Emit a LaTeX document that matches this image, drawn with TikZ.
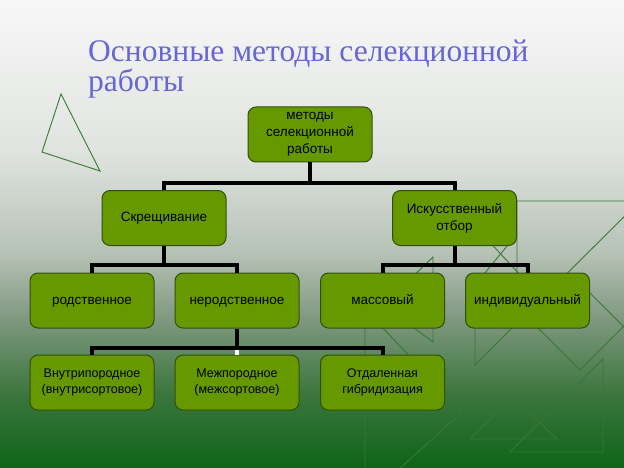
\documentclass[tikz,border=0pt]{standalone}
\usepackage{fontspec}
\setmainfont{Liberation Serif}
\setsansfont{Liberation Sans}
\newfontfamily\titlefont{Liberation Serif}
\usepackage{tikz}
\definecolor{boxgreen}{RGB}{102,153,0}
\definecolor{boxedge}{RGB}{50,80,10}
\definecolor{titleblue}{RGB}{102,102,212}
\definecolor{decor}{RGB}{55,120,55}
\definecolor{bgA}{RGB}{14,100,24}
\definecolor{bgB}{RGB}{60,118,62}
\definecolor{bgC}{RGB}{128,152,128}
\definecolor{bgD}{RGB}{182,194,182}
\definecolor{bgE}{RGB}{224,228,224}
\definecolor{bgF}{RGB}{247,247,247}
\pgfdeclareverticalshading{slidebg}{100bp}{color(0bp)=(bgA); color(25bp)=(bgA);
  color(33bp)=(bgB); color(41bp)=(bgC); color(48bp)=(bgD); color(59bp)=(bgE);
  color(75bp)=(bgF); color(100bp)=(bgF)}

\begin{document}
\begin{tikzpicture}[
  x=1pt, y=-1pt,
  box/.style={rectangle, draw=boxedge, line width=1pt, fill=boxgreen,
              rounded corners=8pt, minimum width=124pt, minimum height=55pt,
              align=center, inner sep=2pt,
              font=\sffamily\fontsize{13.5}{16.8}\selectfont},
  one/.style={text height=9.8pt, text depth=2.8pt},
  small/.style={font=\sffamily\fontsize{12.5}{16}\selectfont},
  link/.style={line width=4pt, black},
  deco/.style={draw=decor, line width=0.9pt},
  title/.style={anchor=base west, inner sep=0pt, text=titleblue,
                font=\titlefont\fontsize{31.5}{31.5}\selectfont}
]
  \useasboundingbox (0,0) rectangle (624,468);
  \shade[shading=slidebg] (0,0) rectangle (624,468);
  % background triangles
  \begin{scope}
    \clip (0,0) rectangle (624,468);
    \draw[deco] (61,94) -- (42,152) -- (100,171) -- cycle;
    \draw[deco] (517,201) -- (640,201) -- (517,323) -- cycle;
    \draw[deco] (517,323) -- (475,365) -- (475,285) -- (512,240);
    \draw[deco] (485,237) -- (522,277);
    \draw[deco] (433,257) -- (433,342) -- (383,305) -- cycle;
    \draw[deco] (365,309) -- (462,412) -- (365,500) -- cycle;
    \draw[deco] (505,295) -- (580,370) -- (640,310);
    \draw[deco] (572,275) -- (640,343);
    \draw[deco] (470,439) -- (557,439) -- (513,397) -- cycle;
    \draw[deco] (510,452) -- (603,452) -- (603,359) -- cycle;
  \end{scope}

  \node[title] (title1) at (88,62) {Основные методы селекционной};
  \node[title] (title2) at (88,92) {работы};

  \coordinate (j0) at (310,183);
  \coordinate (j1) at (164,265);
  \coordinate (j2) at (454.5,265);
  \coordinate (j3) at (237,348);

  \node[box] (methods) at (310,134.5) {методы\\ селекционной\\ работы};
  \node[box, one] (cross) at (164,218) {Скрещивание};
  \node[box] (choice)  at (454.5,218) {Искусственный\\ отбор};
  \node[box, one] (kin)    at (92,300.5)    {родственное};
  \node[box, one] (nonkin) at (237,300.5)   {неродственное};
  \node[box, one] (mass)   at (382.5,300.5) {массовый};
  \node[box, one] (single) at (527.5,300.5) {индивидуальный};
  \node[box, small] (intra)   at (92,382.5)  {Внутрипородное\\ (внутрисортовое)};
  \node[box, small] (inter)   at (237,382.5) {Межпородное\\ (межсортовое)};
  \node[box, small] (distant) at (382.5,382.5) {Отдаленная\\ гибридизация};

  \draw[link] (methods) -- (j0) -| (cross);
  \draw[link] (j0) -| (choice);
  \draw[link] (cross) -- (j1) -| (kin);
  \draw[link] (j1) -| (nonkin);
  \draw[link] (choice) -- (j2) -| (mass);
  \draw[link] (j2) -| (single);
  \draw[link] (nonkin) -- (j3) -| (intra);
  \draw[link] (j3) -| (distant);
  \draw[link, white] (j3) ++(0,2) -- (inter);
\end{tikzpicture}
\end{document}
